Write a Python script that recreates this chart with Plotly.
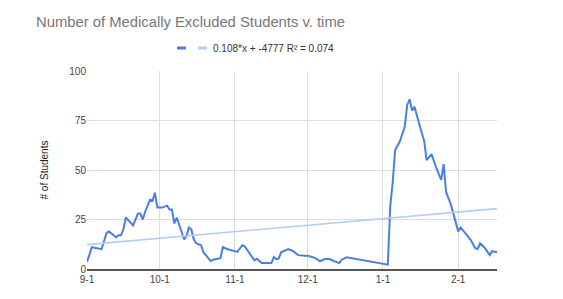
import plotly.graph_objects as go

dates = [
    "2020-09-01", "2020-09-03", "2020-09-07", "2020-09-08", "2020-09-09", "2020-09-10",
    "2020-09-13", "2020-09-14", "2020-09-15", "2020-09-16", "2020-09-17", "2020-09-20",
    "2020-09-22", "2020-09-23", "2020-09-24", "2020-09-25", "2020-09-27", "2020-09-28",
    "2020-09-29", "2020-09-30", "2020-10-02", "2020-10-04", "2020-10-05", "2020-10-06",
    "2020-10-07", "2020-10-08", "2020-10-09", "2020-10-11", "2020-10-12", "2020-10-13",
    "2020-10-14", "2020-10-15", "2020-10-16", "2020-10-18", "2020-10-19", "2020-10-20",
    "2020-10-22", "2020-10-23", "2020-10-25", "2020-10-26", "2020-10-27", "2020-10-29",
    "2020-11-02", "2020-11-04", "2020-11-05", "2020-11-07", "2020-11-09", "2020-11-10",
    "2020-11-11", "2020-11-12", "2020-11-16", "2020-11-17", "2020-11-18", "2020-11-19",
    "2020-11-20", "2020-11-23", "2020-11-25", "2020-11-27", "2020-11-30", "2020-12-01",
    "2020-12-04", "2020-12-06", "2020-12-08", "2020-12-10", "2020-12-12", "2020-12-14",
    "2020-12-15", "2020-12-17", "2021-01-03", "2021-01-04", "2021-01-05", "2021-01-06",
    "2021-01-08", "2021-01-10", "2021-01-11", "2021-01-12", "2021-01-13", "2021-01-14",
    "2021-01-16", "2021-01-18", "2021-01-19", "2021-01-21", "2021-01-23", "2021-01-25",
    "2021-01-26", "2021-01-27", "2021-01-29", "2021-01-31", "2021-02-01", "2021-02-02",
    "2021-02-04", "2021-02-06", "2021-02-08", "2021-02-09", "2021-02-10", "2021-02-12",
    "2021-02-14", "2021-02-15", "2021-02-17",
]
students = [
    3.5, 11, 10, 14, 18, 19,
    16, 17, 17, 20, 26, 22,
    28, 28, 25, 29, 35, 34.5,
    38.5, 31, 31, 32, 30, 30,
    23, 26, 22, 15, 16.5, 21,
    20, 15, 13, 12, 8.4, 7,
    4, 4.7, 5, 5.5, 11, 10,
    8.6, 12, 11.5, 8, 4.4, 5.2,
    4, 3, 3, 6, 5, 5.2,
    8.4, 10, 9, 7, 6.7, 6.7,
    5.6, 3.9, 5, 5, 3.9, 3,
    4.7, 5.9, 2.2, 31.7, 43.5, 60,
    64.6, 72, 83, 85.7, 80, 82,
    73, 64.6, 55, 58, 51, 45,
    53, 39, 32.5, 23, 19, 21,
    18, 15, 10.6, 10, 13, 10.6,
    7, 9, 8.4,
]

trend_dates = ["2020-09-01", "2021-02-17"]
trend_values = [12.3, 30.5]
trend_label = "0.108*x + -4777 R² = 0.074"

tick_dates = ["2020-09-01", "2020-10-01", "2020-11-01", "2020-12-01", "2021-01-01", "2021-02-01"]
tick_labels = ["9-1", "10-1", "11-1", "12-1", "1-1", "2-1"]
y_ticks = [0, 25, 50, 75, 100]

FONT = "Liberation Sans, Arial"

fig = go.Figure()
fig.add_trace(go.Scatter(x=dates, y=students, mode="lines",
                         line=dict(color="#4a7fe0", width=2), showlegend=False))
fig.add_trace(go.Scatter(x=trend_dates, y=trend_values, mode="lines",
                         line=dict(color="#b5cdf3", width=1.6), showlegend=False))

# manual legend
ly = (269 - 48) / 198
fig.add_shape(type="line", xref="paper", yref="paper", x0=(177 - 87) / 410, x1=(186 - 87) / 410,
              y0=ly, y1=ly, line=dict(color="#4a7fe0", width=3))
fig.add_shape(type="line", xref="paper", yref="paper", x0=(198 - 87) / 410, x1=(207 - 87) / 410,
              y0=ly, y1=ly, line=dict(color="#b5cdf3", width=3))
fig.add_annotation(xref="paper", yref="paper", x=(211 - 87) / 410, y=ly,
                   text=trend_label, showarrow=False, xanchor="left", yanchor="middle",
                   font=dict(family=FONT, size=10, color="#333333"))

fig.update_layout(
    width=563, height=299,
    margin=dict(l=87, r=66, t=71, b=30),
    paper_bgcolor="white", plot_bgcolor="white",
    title=dict(text="Number of Medically Excluded Students v. time", x=36 / 563, xanchor="left",
               y=1 - 22 / 299, yanchor="middle",
               font=dict(family=FONT, size=14.8, color="#777777")),
    xaxis=dict(range=["2020-09-01", "2021-02-17"], tickvals=tick_dates, ticktext=tick_labels,
               showgrid=True, gridcolor="#dddddd", gridwidth=1, showline=True, linecolor="#555555",
               linewidth=1.5, ticks="", tickfont=dict(family=FONT, size=10, color="#444444")),
    yaxis=dict(range=[0, 100], tickvals=y_ticks, showgrid=True, gridcolor="#dddddd",
               zeroline=False, ticks="", ticklen=0,
               tickfont=dict(family=FONT, size=10, color="#444444"),
               title=dict(text="# of Students", standoff=18,
                          font=dict(family=FONT, size=10, color="#222222"))),
)

fig.write_html("out.html")
